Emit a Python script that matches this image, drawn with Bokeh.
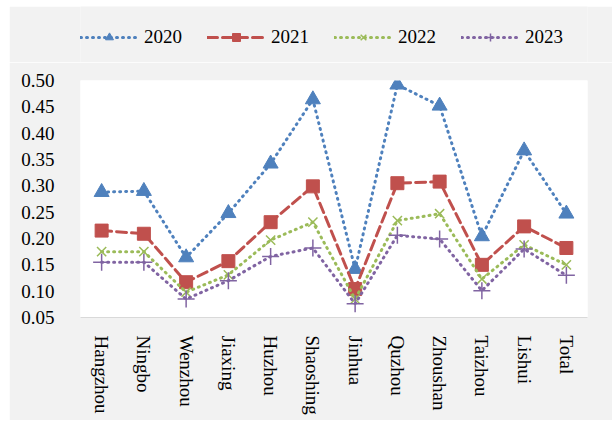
import math
from bokeh.plotting import figure
from bokeh.layouts import column
from bokeh.models import Range1d, FixedTicker, NumeralTickFormatter, Legend, LegendItem, FactorRange
from bokeh.embed import file_html
from bokeh.resources import INLINE

cities = ["Hangzhou", "Ningbo", "Wenzhou", "Jiaxing", "Huzhou", "Shaoshing",
          "Jinhua", "Quzhou", "Zhoushan", "Taizhou", "Lishui", "Total"]
v2020 = [0.288, 0.290, 0.164, 0.248, 0.342, 0.464, 0.142, 0.492, 0.452, 0.204, 0.367, 0.247]
v2021 = [0.215, 0.209, 0.117, 0.157, 0.231, 0.299, 0.104, 0.305, 0.308, 0.150, 0.223, 0.182]
v2022 = [0.175, 0.175, 0.098, 0.131, 0.197, 0.231, 0.085, 0.234, 0.247, 0.123, 0.188, 0.150]
v2023 = [0.155, 0.155, 0.085, 0.120, 0.166, 0.182, 0.076, 0.206, 0.199, 0.101, 0.180, 0.130]
y_ticks = [0.05, 0.10, 0.15, 0.20, 0.25, 0.30, 0.35, 0.40, 0.45, 0.50]
years = ["2020", "2021", "2022", "2023"]

FONT = "Liberation Serif"
BG = "#f2f2f2"

# legend strip on top (its y range keeps the series out of view; only the legend shows)
top = figure(width=603, height=56, x_range=FactorRange(*cities), y_range=Range1d(10, 11),
             output_backend="svg", toolbar_location=None,
             x_axis_location=None, y_axis_location=None,
             min_border_left=71, min_border_right=25, min_border_top=0, min_border_bottom=0)
top.border_fill_color = BG
top.background_fill_color = BG
top.outline_line_color = None
top.xgrid.visible = False
top.ygrid.visible = False

p = figure(x_range=FactorRange(*cities), y_range=Range1d(0.05, 0.50),
           width=603, height=358, output_backend="svg", toolbar_location=None,
           min_border_left=71, min_border_top=18, min_border_right=25, min_border_bottom=103)
p.border_fill_color = BG
p.background_fill_color = "white"
p.outline_line_color = None
p.xgrid.visible = False
p.ygrid.visible = False

p.yaxis.ticker = FixedTicker(ticks=y_ticks)
p.yaxis.formatter = NumeralTickFormatter(format="0.00")
p.yaxis.axis_line_color = None
p.yaxis.major_tick_line_color = None
p.yaxis.minor_tick_line_color = None
p.yaxis.major_label_standoff = 20
p.yaxis.major_label_text_font = FONT
p.yaxis.major_label_text_font_size = "19px"
p.yaxis.major_label_text_color = "black"

p.xaxis.axis_line_color = "#d9d9d9"
p.xaxis.axis_line_width = 1
p.xaxis.major_tick_line_color = None
p.xaxis.minor_tick_line_color = None
p.xaxis.major_label_orientation = -math.pi / 2
p.xaxis.major_label_standoff = 12
p.xaxis.major_label_text_font = FONT
p.xaxis.major_label_text_font_size = "19px"
p.xaxis.major_label_text_color = "black"

styles = [
    (v2020, "#4f81bd", "1 5", 3, "triangle", 15, 1),
    (v2021, "#c0504d", "10 5", 3, "square", 13, 1),
    (v2022, "#9bbb59", "1 5", 3, "x", 13, 1.5),
    (v2023, "#8064a2", "1 5", 3, "cross", 17, 1.5),
]
items = []
for (vals, col, dash, lw, mk, ms, mlw), yr in zip(styles, years):
    p.line(cities, vals, line_color=col, line_dash=dash, line_width=lw, line_cap="round")
    p.scatter(cities, vals, marker=mk, size=ms, fill_color=col, line_color=col, line_width=mlw)
    l2 = top.line(cities, vals, line_color=col, line_dash=dash, line_width=lw, line_cap="round")
    s2 = top.scatter(cities, vals, marker=mk, size=ms, fill_color=col, line_color=col, line_width=mlw)
    items.append(LegendItem(label=yr, renderers=[l2, s2]))

legend = Legend(items=items, orientation="horizontal", location=(0, 14),
                glyph_width=58, glyph_height=20, label_standoff=6, spacing=25,
                padding=0, margin=0, border_line_color=None, background_fill_alpha=0,
                label_text_font=FONT, label_text_font_size="19px", label_text_color="black")
top.add_layout(legend, "center")

layout = column(top, p, spacing=0)
layout.margin = (6, 0, 0, 9)

open("out.html", "w").write(file_html(layout, INLINE))
